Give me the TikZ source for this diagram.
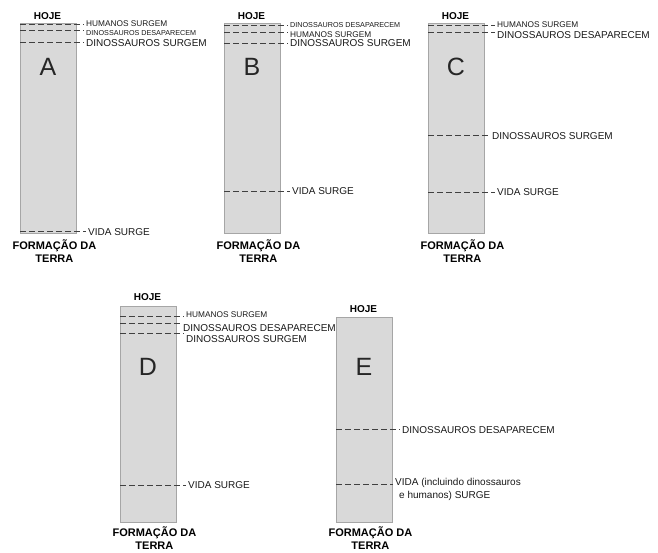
\documentclass[tikz,border=0pt]{standalone}
\usepackage{fontspec}
\setmainfont{Liberation Sans}
\usetikzlibrary{calc}
\begin{document}
\begin{tikzpicture}[x=1pt,y=-1pt]
    \def\colw{56}
    \def\txtgap{2}
    \tikzstyle{column}=[rectangle, draw=black!35, fill=black!15, line width=0.8pt, minimum width=\colw pt, inner sep=0pt, anchor=north west]
    \tikzstyle{eraline}=[dashed, dash pattern=on 6pt off 3pt, line width=1pt, black!75]
    \tikzstyle{lbltiny}=[anchor=west, inner sep=0pt, text=black!90, font=\fontsize{7.2}{8}\selectfont]
    \tikzstyle{lblsmall}=[anchor=west, inner sep=0pt, text=black!90, font=\fontsize{8.3}{9}\selectfont]
    \tikzstyle{lbl}=[anchor=west, inner sep=0pt, text=black!90, font=\fontsize{10}{13}\selectfont]
    \tikzstyle{today}=[inner sep=0pt, text=black, font=\bfseries\fontsize{10}{12}\selectfont]
    \tikzstyle{origin}=[inner sep=0pt, align=center, text=black, font=\bfseries\fontsize{11}{13}\selectfont]
    \tikzstyle{letter}=[inner sep=0pt, text=black!85, font=\fontsize{25}{28}\selectfont]

    \useasboundingbox (0,0) rectangle (658,552);

    % columns
    \node (colA) [column, minimum height=210pt] at (20,23) {};
    \node (colB) [column, minimum height=210pt] at (224,23) {};
    \node (colC) [column, minimum height=210pt] at (428,23) {};
    \node (colD) [column, minimum height=216pt] at (120,306) {};
    \node (colE) [column, minimum height=205pt] at (336,317) {};

    % big letters
    \node (lA) [letter] at (48,67) {A};
    \node (lB) [letter] at (252,67) {B};
    \node (lC) [letter] at (456,67) {C};
    \node (lD) [letter] at (148,367) {D};
    \node (lE) [letter] at (364,367) {E};

    % captions
    \path (colA.north)+(-1,-7) node (hA) [today] {HOJE};
    \path (colB.north)+(-1,-7) node (hB) [today] {HOJE};
    \path (colC.north)+(-1,-7) node (hC) [today] {HOJE};
    \path (colD.north)+(-1,-9) node (hD) [today] {HOJE};
    \path (colE.north)+(-1,-8) node (hE) [today] {HOJE};

    \path (colA.south)+(6,17) node (tA) [origin] {FORMAÇÃO DA\\TERRA};
    \path (colB.south)+(6,17) node (tB) [origin] {FORMAÇÃO DA\\TERRA};
    \path (colC.south)+(6,17) node (tC) [origin] {FORMAÇÃO DA\\TERRA};
    \path (colD.south)+(6,15) node (tD) [origin] {FORMAÇÃO DA\\TERRA};
    \path (colE.south)+(6,15) node (tE) [origin] {FORMAÇÃO DA\\TERRA};

    % column A
    \node (aHum) [lblsmall] at (86,24) {HUMANOS SURGEM};
    \node (aDes) [lbltiny] at (86,33) {DINOSSAUROS DESAPARECEM};
    \node (aDin) [lbl] at (86,43) {DINOSSAUROS SURGEM};
    \node (aVid) [lbl] at (88,232) {VIDA SURGE};
    \coordinate (aHumL) at (20,24);
    \coordinate (aDesL) at (20,30);
    \coordinate (aDinL) at (20,42);
    \coordinate (aVidL) at (20,231);
    \draw[eraline] (aHumL) -- ($(aHumL -| aHum.west)-(\txtgap,0)$);
    \draw[eraline] (aDesL) -- ($(aDesL -| aDes.west)-(\txtgap,0)$);
    \draw[eraline] (aDinL) -- ($(aDinL -| aDin.west)-(\txtgap,0)$);
    \draw[eraline] (aVidL) -- ($(aVidL -| aVid.west)-(\txtgap,0)$);

    % column B
    \node (bDes) [lbltiny] at (290,25) {DINOSSAUROS DESAPARECEM};
    \node (bHum) [lblsmall] at (290,35) {HUMANOS SURGEM};
    \node (bDin) [lbl] at (290,43) {DINOSSAUROS SURGEM};
    \node (bVid) [lbl] at (292,191) {VIDA SURGE};
    \coordinate (bDesL) at (224,25);
    \coordinate (bHumL) at (224,32);
    \coordinate (bDinL) at (224,43);
    \coordinate (bVidL) at (224,191);
    \draw[eraline] (bDesL) -- ($(bDesL -| bDes.west)-(\txtgap,0)$);
    \draw[eraline] (bHumL) -- ($(bHumL -| bHum.west)-(\txtgap,0)$);
    \draw[eraline] (bDinL) -- ($(bDinL -| bDin.west)-(\txtgap,0)$);
    \draw[eraline] (bVidL) -- ($(bVidL -| bVid.west)-(\txtgap,0)$);

    % column C
    \node (cHum) [lblsmall] at (497,25) {HUMANOS SURGEM};
    \node (cDes) [lbl] at (497,35) {DINOSSAUROS DESAPARECEM};
    \node (cDin) [lbl] at (492,136) {DINOSSAUROS SURGEM};
    \node (cVid) [lbl] at (497,192) {VIDA SURGE};
    \coordinate (cHumL) at (428,25);
    \coordinate (cDesL) at (428,32);
    \coordinate (cDinL) at (428,135);
    \coordinate (cVidL) at (428,192);
    \draw[eraline] (cHumL) -- ($(cHumL -| cHum.west)-(\txtgap,0)$);
    \draw[eraline] (cDesL) -- ($(cDesL -| cDes.west)-(\txtgap,0)$);
    \draw[eraline] (cDinL) -- ($(cDinL -| cDin.west)-(\txtgap,0)$);
    \draw[eraline] (cVidL) -- ($(cVidL -| cVid.west)-(\txtgap,0)$);

    % column D
    \node (dHum) [lblsmall] at (186,315) {HUMANOS SURGEM};
    \node (dDes) [lbl] at (183,328) {DINOSSAUROS DESAPARECEM};
    \node (dDin) [lbl] at (186,339) {DINOSSAUROS SURGEM};
    \node (dVid) [lbl] at (188,485) {VIDA SURGE};
    \coordinate (dHumL) at (120,316);
    \coordinate (dDesL) at (120,323);
    \coordinate (dDinL) at (120,333);
    \coordinate (dVidL) at (120,485);
    \draw[eraline] (dHumL) -- ($(dHumL -| dHum.west)-(\txtgap,0)$);
    \draw[eraline] (dDesL) -- ($(dDesL -| dDes.west)-(\txtgap,0)$);
    \draw[eraline] (dDinL) -- ($(dDinL -| dDin.west)-(\txtgap,0)$);
    \draw[eraline] (dVidL) -- ($(dVidL -| dVid.west)-(\txtgap,0)$);

    % column E
    \node (eDes) [lbl] at (402,430) {DINOSSAUROS DESAPARECEM};
    \node (eVid) [lbl, anchor=north west, align=left] at (395,478) {VIDA (incluindo dinossauros\\\hspace*{4pt}e humanos) SURGE};
    \coordinate (eDesL) at (336,429);
    \coordinate (eVidL) at (336,484);
    \draw[eraline] (eDesL) -- ($(eDesL -| eDes.west)-(\txtgap,0)$);
    \draw[eraline] (eVidL) -- ($(eVidL -| eVid.west)-(\txtgap,0)$);
\end{tikzpicture}
\end{document}
